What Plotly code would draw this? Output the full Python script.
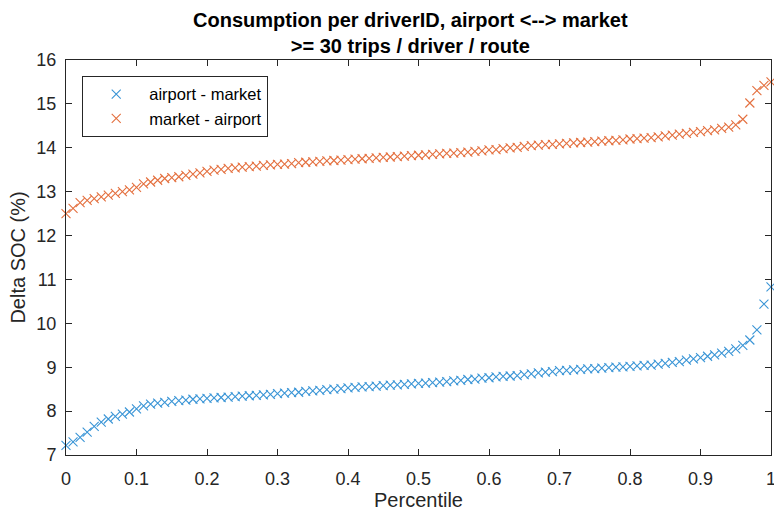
import plotly.graph_objects as go

percentile = [i / 100 for i in range(101)]

airport_market = [
    7.22, 7.30, 7.40, 7.52, 7.65, 7.75, 7.82, 7.88, 7.93, 7.98,
    8.05, 8.12, 8.16, 8.18, 8.20, 8.22, 8.24, 8.25, 8.27, 8.28,
    8.29, 8.30, 8.31, 8.32, 8.33, 8.34, 8.35, 8.36, 8.37, 8.38,
    8.40, 8.41, 8.42, 8.43, 8.45, 8.46, 8.47, 8.49, 8.50, 8.51,
    8.53, 8.54, 8.55, 8.56, 8.57, 8.58, 8.59, 8.60, 8.61, 8.62,
    8.63, 8.64, 8.65, 8.66, 8.67, 8.69, 8.70, 8.72, 8.73, 8.75,
    8.76, 8.78, 8.79, 8.80, 8.81, 8.83, 8.85, 8.87, 8.89, 8.90,
    8.92, 8.93, 8.94, 8.95, 8.96, 8.97, 8.98, 8.99, 9.00, 9.01,
    9.02, 9.03, 9.04, 9.05, 9.07, 9.09, 9.11, 9.13, 9.16, 9.19,
    9.22, 9.25, 9.28, 9.32, 9.36, 9.42, 9.50, 9.62, 9.85, 10.44,
    10.83,
]

market_airport = [
    12.50, 12.62, 12.75, 12.80, 12.84, 12.88, 12.92, 12.96, 13.00, 13.04,
    13.10, 13.18, 13.22, 13.26, 13.30, 13.32, 13.34, 13.37, 13.40, 13.43,
    13.46, 13.49, 13.51, 13.53, 13.54, 13.56, 13.57, 13.58, 13.60, 13.61,
    13.62, 13.63, 13.64, 13.66, 13.67, 13.68, 13.69, 13.70, 13.71, 13.72,
    13.73, 13.74, 13.75, 13.76, 13.77, 13.78, 13.79, 13.80, 13.81, 13.82,
    13.83, 13.84, 13.85, 13.86, 13.87, 13.88, 13.89, 13.90, 13.92, 13.93,
    13.95, 13.96, 13.98, 14.00, 14.01, 14.03, 14.05, 14.06, 14.07, 14.08,
    14.09, 14.10, 14.11, 14.12, 14.13, 14.14, 14.15, 14.16, 14.17, 14.18,
    14.20, 14.21, 14.22, 14.23, 14.25, 14.27, 14.29, 14.31, 14.33, 14.35,
    14.37, 14.39, 14.41, 14.44, 14.47, 14.52, 14.65, 15.02, 15.30, 15.42,
    15.50,
]

x_ticks = [0, 0.1, 0.2, 0.3, 0.4, 0.5, 0.6, 0.7, 0.8, 0.9, 1]
x_tick_text = ["0", "0.1", "0.2", "0.3", "0.4", "0.5", "0.6", "0.7", "0.8", "0.9", "1"]
y_ticks = [7, 8, 9, 10, 11, 12, 13, 14, 15, 16]
title_lines = ["Consumption per driverID, airport <--> market", ">= 30 trips / driver / route"]

BLUE = "#3a95d6"
ORANGE = "#e4703f"
AXIS = "#262626"
FONT = "Liberation Sans, Arial, sans-serif"

fig = go.Figure()
fig.add_trace(go.Scatter(
    x=percentile, y=airport_market, mode="markers", name="airport - market",
    marker=dict(symbol="x-thin", size=9, line=dict(width=1.1, color=BLUE), color=BLUE),
    cliponaxis=False,
))
fig.add_trace(go.Scatter(
    x=percentile, y=market_airport, mode="markers", name="market - airport",
    marker=dict(symbol="x-thin", size=9, line=dict(width=1.1, color=ORANGE), color=ORANGE),
    cliponaxis=False,
))

axis_common = dict(
    showline=True, linecolor=AXIS, linewidth=1, mirror="ticks",
    ticks="inside", ticklen=6, tickcolor=AXIS, tickwidth=1,
    showgrid=False, zeroline=False, automargin=False,
    ticklabeloverflow="allow",
    tickfont=dict(family=FONT, size=18, color=AXIS),
)

fig.add_annotation(
    text="<b>" + "<br>".join(title_lines) + "</b>",
    xref="paper", yref="paper", x=0.489, y=1.134, xanchor="center", yanchor="top",
    showarrow=False, font=dict(family=FONT, size=20, color="black"),
)

fig.update_layout(
    width=774, height=515,
    paper_bgcolor="white", plot_bgcolor="white",
    margin=dict(l=66, r=3, t=60, b=60),
    font=dict(family=FONT, color=AXIS),
    xaxis=dict(
        range=[0, 1], tickvals=x_ticks, ticktext=x_tick_text, ticklabelstandoff=7,
        title=dict(text="Percentile", font=dict(family=FONT, size=20, color=AXIS), standoff=5),
        **axis_common,
    ),
    yaxis=dict(
        range=[7, 16], tickvals=y_ticks, ticklabelstandoff=5,
        title=dict(text="Delta SOC (%)", font=dict(family=FONT, size=20, color=AXIS), standoff=5),
        **axis_common,
    ),
    legend=dict(
        x=0.023, y=0.96, xanchor="left", yanchor="top",
        bgcolor="white", bordercolor=AXIS, borderwidth=1,
        font=dict(family=FONT, size=16.5, color="black"),
        tracegroupgap=0, itemwidth=56,
    ),
    showlegend=True,
)

fig.write_html(
    "out.html",
    config={"displayModeBar": False},
    post_script="document.body.style.margin='0';document.body.style.overflow='hidden';",
)
